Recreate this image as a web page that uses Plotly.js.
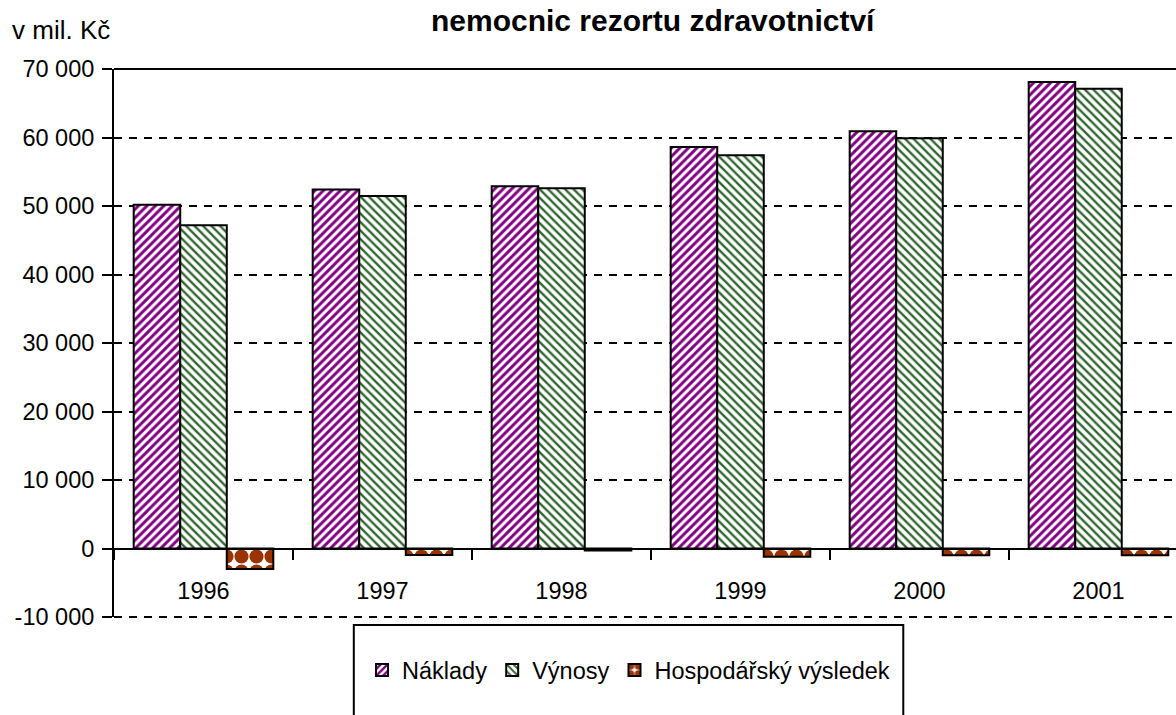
<!DOCTYPE html>
<html>
<head>
<meta charset="utf-8">
<script src="https://cdn.plot.ly/plotly-3.0.1.min.js"></script>
<style>
html,body{margin:0;padding:0;background:#fff;overflow:hidden;}
#chart{width:1176px;height:715px;}
</style>
</head>
<body>
<div id="chart"></div>
<script>
// ---- data ----
const years = ['1996', '1997', '1998', '1999', '2000', '2001'];
const naklady = [50200, 52400, 52900, 58600, 60900, 68100];
const vynosy = [47200, 51450, 52600, 57400, 59900, 67100];
const hospVysledek = [-3000, -950, -300, -1200, -1000, -1000];
const seriesNames = ['Náklady', 'Výnosy', 'Hospodářský výsledek'];
const yTickVals = [-10000, 0, 10000, 20000, 30000, 40000, 50000, 60000, 70000];
const yTickText = ['-10 000', '0', '10 000', '20 000', '30 000', '40 000', '50 000', '60 000', '70 000'];
const titleText = 'nemocnic rezortu zdravotnictví';
const unitText = 'v mil. Kč';

const FONT = 'Liberation Sans, Arial, sans-serif';

const traces = [
  {
    type: 'bar', x: years, y: naklady, name: seriesNames[0],
    marker: {
      color: '#800080',
      line: {color: '#000', width: 2},
      pattern: {shape: '/', fgcolor: '#800080', bgcolor: '#ffffff', size: 6, solidity: 0.5, fillmode: 'replace'}
    }
  },
  {
    type: 'bar', x: years, y: vynosy, name: seriesNames[1],
    marker: {
      color: '#336633',
      line: {color: '#000', width: 2},
      pattern: {shape: '\\', fgcolor: '#336633', bgcolor: '#ffffff', size: 6, solidity: 0.4, fillmode: 'replace'}
    }
  },
  {
    type: 'bar', x: years, y: hospVysledek, name: seriesNames[2],
    marker: {
      color: '#993300',
      line: {color: '#000', width: 2},
      pattern: {shape: '.', fgcolor: '#993300', bgcolor: '#ffffff', size: 15, solidity: 0.7, fillmode: 'replace'}
    }
  }
];

const layout = {
  width: 1176,
  height: 715,
  margin: {l: 114, r: 0, t: 69, b: 98, pad: 0},
  paper_bgcolor: '#ffffff',
  plot_bgcolor: '#ffffff',
  font: {family: FONT, size: 23, color: '#000'},
  barmode: 'group',
  bargap: 0.22,
  bargroupgap: 0,
  showlegend: true,
  legend: {
    orientation: 'h',
    x: 0.4845, xanchor: 'center',
    y: -0.097, yanchor: 'middle',
    font: {family: FONT, size: 23.5, color: '#000'},
    bgcolor: 'rgba(0,0,0,0)',
    borderwidth: 0,
    traceorder: 'normal'
  },
  xaxis: {
    type: 'category',
    range: [-0.5, 5.433],
    anchor: 'free',
    position: 0.125,
    showline: true,
    linecolor: '#000',
    linewidth: 2,
    ticks: 'outside',
    tickson: 'boundaries',
    ticklen: 10,
    tickwidth: 2,
    tickcolor: '#000',
    ticklabelstandoff: 21,
    showgrid: false,
    zeroline: false,
    tickfont: {family: FONT, size: 23.5, color: '#000'}
  },
  yaxis: {
    range: [-10000, 70000],
    tickvals: yTickVals,
    ticktext: yTickText,
    showline: true,
    linecolor: '#000',
    linewidth: 2,
    ticks: 'outside',
    ticklen: 10,
    tickwidth: 2,
    tickcolor: '#000',
    ticklabelstandoff: 3,
    showgrid: true,
    gridcolor: '#000',
    gridwidth: 2,
    griddash: '8px,7px',
    zeroline: false,
    tickfont: {family: FONT, size: 23.5, color: '#000'}
  },
  shapes: [
    {type: 'line', xref: 'paper', yref: 'paper', x0: 0, x1: 1, y0: 1, y1: 1, layer: 'below',
     line: {color: '#000', width: 2}},
    {type: 'line', xref: 'paper', yref: 'paper', x0: 0, x1: 1, y0: 0, y1: 0, layer: 'below',
     line: {color: '#000', width: 2, dash: '8px,7px'}},
    {type: 'rect', xref: 'paper', yref: 'paper', x0: 0.2258, x1: 0.7432, y0: -0.0146, y1: -0.2,
     line: {color: '#000', width: 2}, fillcolor: 'rgba(0,0,0,0)'}
  ],
  annotations: [
    {text: '<b>' + titleText + '</b>', xref: 'paper', yref: 'paper', x: 0.508, y: 1.089,
     xanchor: 'center', yanchor: 'middle', showarrow: false,
     font: {family: FONT, size: 30, color: '#000'}},
    {text: unitText, xref: 'paper', yref: 'paper', x: -0.098, y: 1.0716,
     xanchor: 'left', yanchor: 'middle', showarrow: false,
     font: {family: FONT, size: 26, color: '#000'}}
  ]
};

Plotly.newPlot('chart', traces, layout, {staticPlot: true, displayModeBar: false});
</script>
</body>
</html>
